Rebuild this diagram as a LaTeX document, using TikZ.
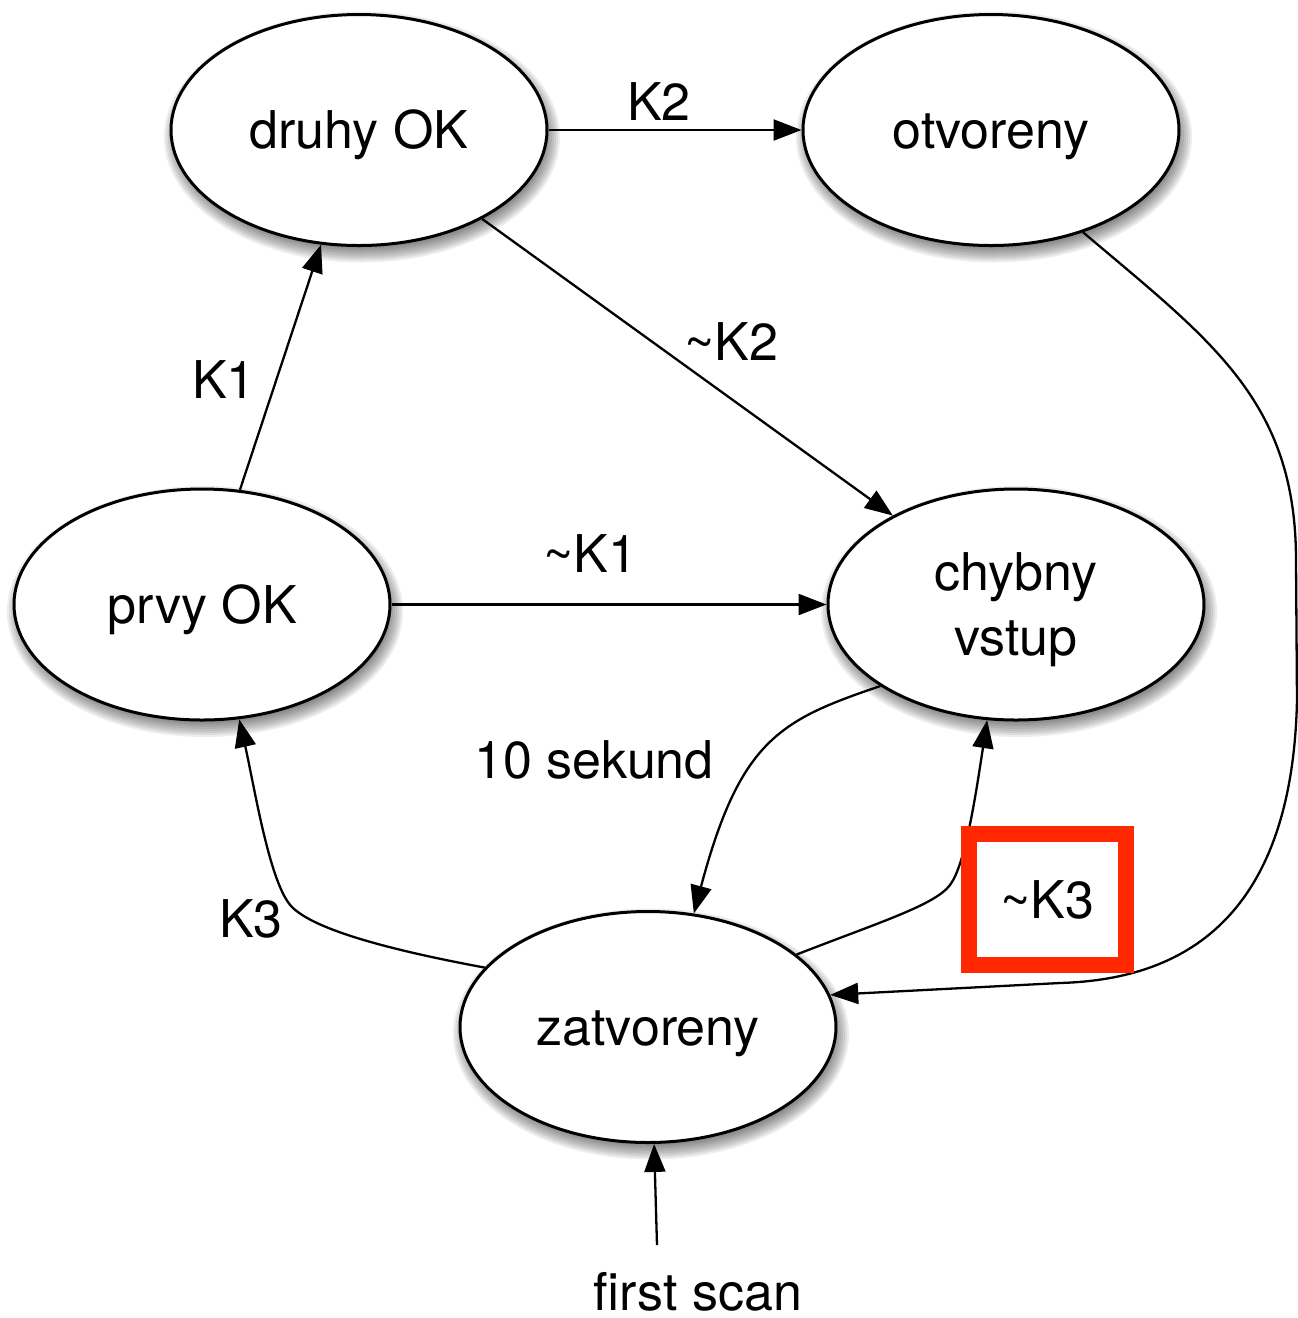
\documentclass[tikz,border=0pt]{standalone}
\usepackage{fontspec}
\setmainfont{TeX Gyre Heros}
\usetikzlibrary{shapes.geometric,arrows.meta}
\definecolor{boxred}{RGB}{255,40,0}
\newcommand\ellshadow[2]{%
  \foreach \i in {0,...,9}{%
    \fill[black,opacity=0.07] ({#1+0.03},{#2-0.07}) ellipse ({1.98-0.02*\i} and {1.255-0.02*\i});}}
\tikzset{
  every node/.style={font=\fontsize{14.8pt}{18.5pt}\selectfont},
  ell/.style={ellipse, draw, line width=0.03cm, fill=white, minimum width=3.76cm,
    minimum height=2.31cm, inner sep=0pt, text height=10.6pt, text depth=0pt},
  lbl/.style={inner sep=0pt, anchor=base},
  arr/.style={-{Triangle[length=0.28cm,width=0.21cm]}, line width=0.023cm},
  redbox/.style={draw=boxred, line width=0.16cm, fill=white, minimum width=1.573cm,
    minimum height=1.31cm, inner sep=0pt, text height=10.6pt, text depth=0pt},
}
\begin{document}
\begin{tikzpicture}
\useasboundingbox (0,0) rectangle (12.98,-13.18);
% shadows
\ellshadow{3.59}{-1.30}
\ellshadow{9.91}{-1.30}
\ellshadow{2.02}{-6.045}
\ellshadow{10.16}{-6.045}
\ellshadow{6.48}{-10.27}
% states
\node[ell] (dru) at (3.59,-1.30) {druhy OK};
\node[ell] (otv) at (9.91,-1.30) {otvoreny};
\node[ell] (prv) at (2.02,-6.045) {prvy OK};
\node[ell, align=center, text height=29.1pt] (chy) at (10.16,-6.045) {chybny\\vstup};
\node[ell] (zat) at (6.48,-10.27) {zatvoreny};
% transitions
\draw[arr] (prv) -- (dru);
\draw[arr] (dru) -- (otv);
\draw[arr] (dru) -- (chy);
\draw[arr] (prv) -- (chy);
\draw[arr] (chy.211) .. controls (7.80,-7.20) and (7.40,-7.40) .. (zat.68);
\draw[arr] (zat.26) .. controls (8.80,-9.22) and (9.35,-9.05) .. (9.50,-8.85)
  .. controls (9.65,-8.65) and (9.75,-8.00) .. (chy.256);
\draw[arr] (zat.160) .. controls (3.90,-9.50) and (3.15,-9.30) .. (2.92,-9.07)
  .. controls (2.70,-8.85) and (2.55,-7.90) .. (prv.288);
\draw[arr] (otv.-48) .. controls (12.10,-3.40) and (12.96,-4.00) .. (12.96,-5.60)
  -- (12.97,-7.00) .. controls (12.92,-9.40) and (11.60,-9.80) .. (10.60,-9.83)
  -- (zat.10);
\coordinate (fs) at (6.57,-12.45);
\node[lbl] (fst) at (6.98,-13.10) {first scan};
\draw[arr] (fs) -- (zat.273);
% labels
\node[lbl] (lk2) at (6.59,-1.20) {K2};
\node[lbl] (lnk2) at (7.31,-3.60) {\textasciitilde K2};
\node[lbl] (lk1) at (2.24,-3.98) {K1};
\node[lbl] (lnk1) at (5.90,-5.72) {\textasciitilde K1};
\node[lbl] (l10) at (5.94,-7.78) {10 sekund};
\node[lbl] (lk3) at (2.51,-9.37) {K3};
\node[redbox] (lnk3) at (10.474,-8.995) {\textasciitilde K3};
\end{tikzpicture}
\end{document}
